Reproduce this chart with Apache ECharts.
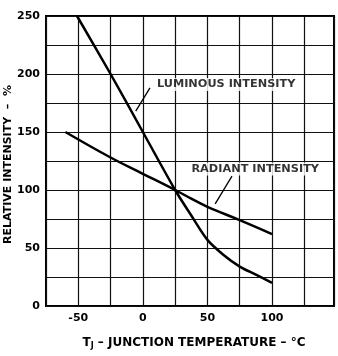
<!DOCTYPE html>
<html>
<head>
<meta charset="utf-8">
<script src="https://cdn.jsdelivr.net/npm/echarts@6/dist/echarts.min.js"></script>
<style>
  html, body { margin: 0; padding: 0; background: #fff; }
  #chart { width: 338px; height: 356px; }
</style>
</head>
<body>
<div id="chart"></div>
<script>
// junction temperature (°C) vs relative intensity (%)
var luminousTemp = [-51, -25, 0, 25, 37.5, 50, 62.5, 75, 87.5, 100];
var luminousVal  = [250, 200, 150, 100, 78, 57, 44, 34, 27, 20];
var radiantTemp  = [-60, -25, 0, 25, 37.5, 50, 75, 100];
var radiantVal   = [150, 128, 114, 100, 92.5, 85.5, 74, 62];

var xTickLabels = [-50, 0, 50, 100];
var yTickLabels = [0, 50, 100, 150, 200, 250];

// callout text and leader lines, in data coordinates
var luminousLabel  = { text: 'LUMINOUS INTENSITY', at: [64.5, 191] };
var luminousLeader = [[5.5, 188], [-5.5, 168]];
var radiantLabel   = { text: 'RADIANT INTENSITY', at: [87, 118] };
var radiantLeader  = [[69, 112], [56, 88]];

var FONT = 'DejaVu Sans';

function pairs(xs, ys) {
  var out = [];
  for (var i = 0; i < xs.length; i++) out.push([xs[i], ys[i]]);
  return out;
}

var chart = echarts.init(document.getElementById('chart'));

var option = {
  animation: false,
  backgroundColor: '#fff',
  grid: {
    left: 46, right: 4, top: 16, bottom: 50,
    show: true,
    borderColor: '#000',
    borderWidth: 2
  },
  xAxis: {
    type: 'value',
    min: -75, max: 148, interval: 25,
    axisLine: { show: false },
    axisTick: { show: false },
    splitLine: { show: true, lineStyle: { color: '#111', width: 1.2 } },
    axisLabel: {
      margin: 7,
      color: '#000',
      fontFamily: FONT, fontWeight: 'bold', fontSize: 11,
      showMaxLabel: false,
      formatter: function (v) {
        return xTickLabels.indexOf(v) >= 0 ? String(v) : '';
      }
    },
    name: '{t|T}{sub|J}{t| – JUNCTION TEMPERATURE – °C}',
    nameLocation: 'middle',
    nameGap: 30,
    nameTextStyle: {
      padding: [0, 0, 0, 8],
      rich: {
        t: { fontFamily: FONT, fontWeight: 'bold', fontSize: 12, color: '#000' },
        sub: { fontFamily: FONT, fontWeight: 'bold', fontSize: 8, color: '#000', padding: [6, 0, 0, 0] }
      }
    }
  },
  yAxis: {
    type: 'value',
    min: 0, max: 250, interval: 25,
    axisLine: { show: false },
    axisTick: { show: false },
    splitLine: { show: true, lineStyle: { color: '#111', width: 1.2 } },
    axisLabel: {
      margin: 6,
      color: '#000',
      fontFamily: FONT, fontWeight: 'bold', fontSize: 11,
      formatter: function (v) {
        return yTickLabels.indexOf(v) >= 0 ? String(v) : '';
      }
    }
  },
  series: [
    {
      name: 'Luminous', type: 'line', smooth: 0.3,
      data: pairs(luminousTemp, luminousVal),
      showSymbol: false,
      lineStyle: { color: '#000', width: 2.5 }
    },
    {
      name: 'Radiant', type: 'line', smooth: 0.4,
      data: pairs(radiantTemp, radiantVal),
      showSymbol: false,
      lineStyle: { color: '#000', width: 2.5 }
    },
    {
      name: 'lumLeader', type: 'line', data: luminousLeader,
      showSymbol: false, lineStyle: { color: '#000', width: 1.3 }
    },
    {
      name: 'radLeader', type: 'line', data: radiantLeader,
      showSymbol: false, lineStyle: { color: '#000', width: 1.3 }
    },
    {
      name: 'labels', type: 'scatter', symbolSize: 0,
      data: [
        { value: luminousLabel.at, name: luminousLabel.text },
        { value: radiantLabel.at, name: radiantLabel.text }
      ],
      label: {
        show: true, position: 'inside',
        formatter: '{b}',
        fontFamily: FONT, fontWeight: 'bold', fontSize: 11.3, color: '#000',
        backgroundColor: '#fff', padding: [1, 1]
      }
    }
  ],
  graphic: [
    {
      type: 'text',
      left: 3,
      top: 85,
      rotation: Math.PI / 2,
      style: {
        text: 'RELATIVE INTENSITY  –  %',
        fontFamily: FONT, fontWeight: 'bold', fontSize: 11, fill: '#000'
      }
    }
  ]
};

chart.setOption(option);
</script>
</body>
</html>
